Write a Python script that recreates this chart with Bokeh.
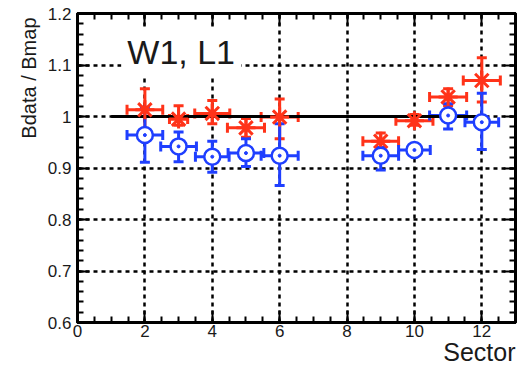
from bokeh.plotting import figure
from bokeh.models import (ColumnDataSource, Whisker, TeeHead, LinearAxis, Range1d,
                          SingleIntervalTicker, Label, Title, CustomJSTickFormatter)
from bokeh.embed import file_html
from bokeh.resources import INLINE

# ---- data ----
sectors = [2, 3, 4, 5, 6, 9, 10, 11, 12]

red_y = [1.013, 0.995, 1.006, 0.978, 0.999, 0.952, 0.992, 1.038, 1.070]
red_lo = [0.972, 0.983, 0.986, 0.960, 0.957, 0.938, 0.983, 1.021, 1.028]
red_hi = [1.054, 1.021, 1.031, 0.996, 1.034, 0.968, 1.004, 1.054, 1.114]
red_xerr = [0.53, 0.27, 0.52, 0.55, 0.55, 0.53, 0.55, 0.55, 0.55]

blue_y = [0.964, 0.942, 0.922, 0.929, 0.924, 0.924, 0.935, 1.002, 0.989]
blue_lo = [0.911, 0.912, 0.892, 0.903, 0.866, 0.896, 0.927, 0.976, 0.936]
blue_hi = [1.018, 0.970, 0.952, 0.957, 0.986, 0.940, 0.943, 1.025, 1.045]
blue_xerr = [0.53, 0.53, 0.50, 0.53, 0.55, 0.53, 0.47, 0.55, 0.50]

ref_x = [1, 12]
ref_y = [1.0, 1.0]

x_label = "Sector"
y_label = "Bdata / Bmap"
panel_label = "W1, L1"

RED = "#ff3319"
BLUE = "#1f3fff"
FONT = "Liberation Sans"
TXT = "#1a1a1a"

p = figure(width=522, height=368, output_backend="svg", toolbar_location=None,
           x_range=Range1d(0, 13), y_range=Range1d(0.6, 1.2001),
           min_border_left=77, min_border_right=7, min_border_top=13, min_border_bottom=46)
p.background_fill_color = "white"
p.border_fill_color = "white"
p.outline_line_color = "black"
p.outline_line_width = 3

xt = SingleIntervalTicker(interval=2, num_minor_ticks=4)
yt = SingleIntervalTicker(interval=0.1, num_minor_ticks=5)

def style_axis(ax, show_labels):
    ax.axis_line_width = 3
    ax.axis_line_color = "black"
    ax.major_tick_in = 12
    ax.major_tick_out = 0
    ax.minor_tick_in = 6
    ax.minor_tick_out = 0
    ax.major_tick_line_width = 2
    ax.minor_tick_line_width = 2
    ax.major_tick_line_color = "black"
    ax.minor_tick_line_color = "black"
    if show_labels:
        ax.major_label_text_font = FONT
        ax.major_label_text_font_size = "17px"
        ax.major_label_text_color = TXT
    else:
        ax.formatter = CustomJSTickFormatter(code="return ''")
        ax.major_label_standoff = 0

p.xaxis.ticker = xt
p.yaxis.ticker = yt
style_axis(p.xaxis[0], True)
style_axis(p.yaxis[0], True)
p.yaxis.major_label_overrides = {1: "1"}
p.xaxis.major_label_standoff = 2
p.yaxis.major_label_standoff = 6

ax_top = LinearAxis(ticker=xt)
style_axis(ax_top, False)
p.add_layout(ax_top, "above")
ax_right = LinearAxis(ticker=yt)
style_axis(ax_right, False)
p.add_layout(ax_right, "right")

for g in (p.xgrid[0], p.ygrid[0]):
    g.grid_line_color = "black"
    g.grid_line_width = 2.5
    g.grid_line_dash = "4 4"
p.xgrid.ticker = xt
p.ygrid.ticker = yt

# reference line
p.line(ref_x, ref_y, line_color="black", line_width=3)

def add_series(y, lo, hi, xerr, color):
    src = ColumnDataSource(dict(
        x=sectors, y=y, lo=lo, hi=hi,
        xl=[s - e for s, e in zip(sectors, xerr)],
        xh=[s + e for s, e in zip(sectors, xerr)]))
    wv = Whisker(base="x", lower="lo", upper="hi", dimension="height", source=src,
                 line_color=color, line_width=3,
                 upper_head=TeeHead(size=10, line_color=color, line_width=3),
                 lower_head=TeeHead(size=10, line_color=color, line_width=3))
    wh = Whisker(base="y", lower="xl", upper="xh", dimension="width", source=src,
                 line_color=color, line_width=3,
                 upper_head=TeeHead(size=10, line_color=color, line_width=3),
                 lower_head=TeeHead(size=10, line_color=color, line_width=3))
    p.add_layout(wv)
    p.add_layout(wh)
    return src

rsrc = add_series(red_y, red_lo, red_hi, red_xerr, RED)
p.scatter("x", "y", source=rsrc, marker="asterisk", size=19, line_color=RED, line_width=3)

bsrc = add_series(blue_y, blue_lo, blue_hi, blue_xerr, BLUE)
p.scatter("x", "y", source=bsrc, marker="circle", size=16, line_color=BLUE,
          fill_color="white", line_width=2.5)
p.scatter("x", "y", source=bsrc, marker="circle", size=3, line_color=BLUE, fill_color=BLUE)

lab = Label(x=1.3, y=1.076, text=panel_label, text_font=FONT, text_font_size="34px",
            text_color=TXT, background_fill_color="white", padding=6)
p.add_layout(lab)

# axis titles at the ends of the axes, as in the reference
xtitle = Title(text=x_label, align="right", standoff=-8, offset=0,
               text_font=FONT, text_font_size="25px", text_font_style="normal",
               text_color=TXT)
p.add_layout(xtitle, "below")
ytitle = Title(text=y_label, align="right", standoff=10, offset=4,
               text_font=FONT, text_font_size="20px", text_font_style="normal",
               text_color=TXT)
p.add_layout(ytitle, "left")

open("out.html", "w").write(file_html(p, INLINE))
